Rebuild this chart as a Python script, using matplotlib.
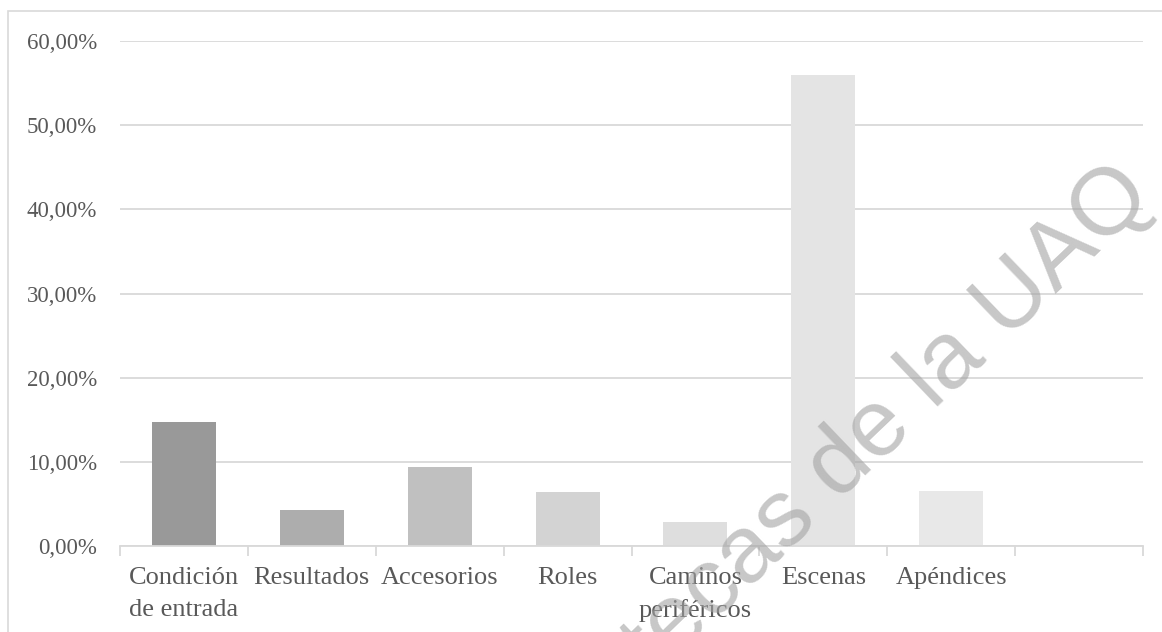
import matplotlib
matplotlib.use("Agg")
import matplotlib.pyplot as plt
from matplotlib.patches import Rectangle
from matplotlib.ticker import FuncFormatter, MultipleLocator

# Share of each element (percent)
categories = ["Condición\nde entrada", "Resultados", "Accesorios", "Roles",
              "Caminos\nperiféricos", "Escenas", "Apéndices", ""]
values = [14.73, 4.28, 9.39, 6.42, 2.85, 55.96, 6.53]
bar_colors = ["#999999", "#adadad", "#c0c0c0", "#d3d3d3",
              "#dedede", "#e4e4e4", "#e8e8e8"]

W, H = 1162, 632
fig = plt.figure(figsize=(W / 100, H / 100), dpi=100)
fig.patch.set_facecolor("white")

# Outer chart-area border
fig.patches.append(Rectangle((8 / W, -0.2), 1.5, 1 - 11 / H + 0.2,
                             transform=fig.transFigure, fill=False,
                             edgecolor="#d9d9d9", linewidth=1.2))

ax = fig.add_axes([120 / W, 1 - 546 / H, (1143 - 120) / W, (546 - 41) / H])
ax.set_facecolor("none")

n = len(categories)
xs = [i + 0.5 for i in range(len(values))]
ax.bar(xs, values, width=0.5, color=bar_colors, zorder=2)

ax.set_xlim(0, n)
ax.set_ylim(0, 60)
ax.yaxis.set_major_locator(MultipleLocator(10))
ax.yaxis.set_major_formatter(FuncFormatter(lambda v, p: f"{v:.2f}%".replace(".", ",")))
ax.grid(axis="y", color="#d9d9d9", linewidth=1.3, zorder=0)
ax.set_axisbelow(True)

for s in ["top", "right", "left"]:
    ax.spines[s].set_visible(False)
ax.spines["bottom"].set_color("#d9d9d9")
ax.spines["bottom"].set_linewidth(1.3)

# category boundary ticks with labels centred in each slot
ax.set_xticks(range(n + 1))
ax.set_xticklabels([])
ax.tick_params(axis="x", which="major", length=7, width=1.3, color="#d9d9d9")
ax.set_xticks([i + 0.5 for i in range(n)], minor=True)
ax.set_xticklabels(categories, minor=True, fontfamily="Liberation Serif",
                   fontsize=19, color="#595959", linespacing=1.55)
ax.tick_params(axis="x", which="minor", length=0, pad=15.3)

ax.tick_params(axis="y", length=0, pad=16.5, labelsize=16.5, labelcolor="#595959")
for lab in ax.get_yticklabels():
    lab.set_fontfamily("Liberation Serif")

# Library watermark
fig.text(821 / W, 1 - 519 / H, "Bibliotecas de la UAQ",
         fontfamily="Liberation Sans", fontsize=68.5, color="#a2a2a2",
         alpha=0.6, rotation=43.8, rotation_mode="anchor",
         ha="center", va="baseline", zorder=10)

fig.savefig("out.png", dpi=100, facecolor="white")
